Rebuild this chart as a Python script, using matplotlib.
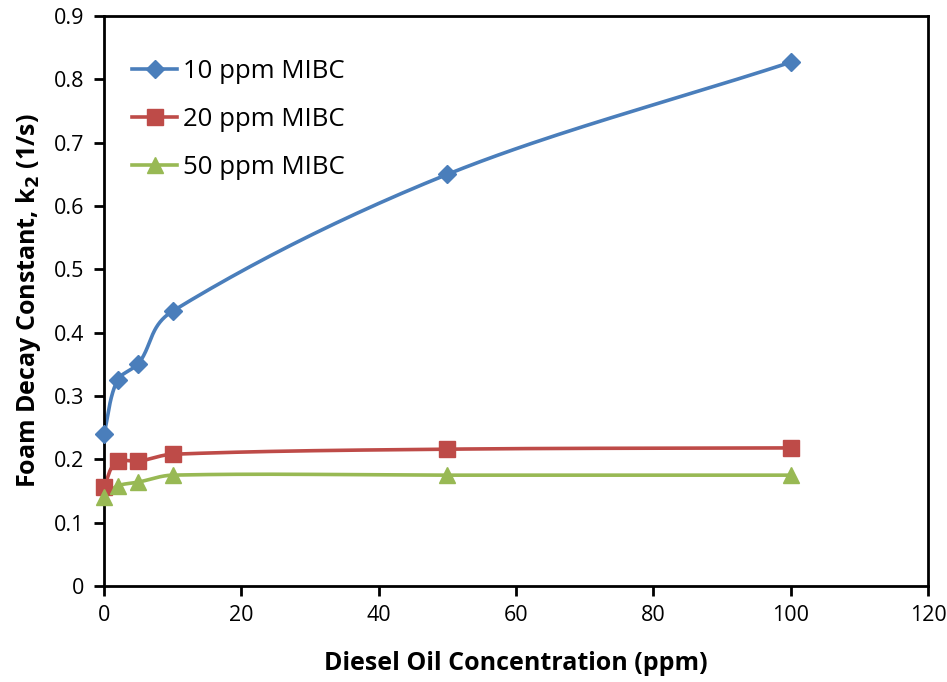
import numpy as np
import matplotlib
matplotlib.use("Agg")
import matplotlib.pyplot as plt
from matplotlib.lines import Line2D

plt.rcParams['font.family'] = ['Open Sans', 'DejaVu Sans']

diesel_ppm = [0, 2, 5, 10, 50, 100]
k2_mibc10 = [0.240, 0.326, 0.351, 0.434, 0.650, 0.827]
k2_mibc20 = [0.157, 0.197, 0.197, 0.208, 0.216, 0.218]
k2_mibc50 = [0.140, 0.158, 0.164, 0.175, 0.175, 0.175]
series_labels = ["10 ppm MIBC", "20 ppm MIBC", "50 ppm MIBC"]
x_ticks = [0, 20, 40, 60, 80, 100, 120]
y_ticks = [0, 0.1, 0.2, 0.3, 0.4, 0.5, 0.6, 0.7, 0.8, 0.9]

colors = ["#4a7ebb", "#be4b48", "#98b954"]
markers = ["D", "s", "^"]
msizes = [9, 11, 11]


def smooth_curve(xs, ys, sx, sy, n=40):
    """Bezier smoothing through the points; tangent lengths scaled per segment."""
    p = np.column_stack([np.asarray(xs, float) / sx, np.asarray(ys, float) / sy])
    m = len(p)
    dirs = []
    for i in range(m):
        a = p[i - 1] if i > 0 else p[i]
        b = p[i + 1] if i + 1 < m else p[i]
        d = b - a
        nrm = np.hypot(*d)
        dirs.append(d / nrm if nrm > 0 else d)
    out = []
    for i in range(m - 1):
        p1, p2 = p[i], p[i + 1]
        L = np.hypot(*(p2 - p1))
        c1 = p1 + dirs[i] * L / 3.0
        c2 = p2 - dirs[i + 1] * L / 3.0
        t = np.linspace(0, 1, n)[:, None]
        seg = ((1 - t) ** 3) * p1 + 3 * ((1 - t) ** 2) * t * c1 + 3 * (1 - t) * t ** 2 * c2 + t ** 3 * p2
        out.append(seg if i == 0 else seg[1:])
    c = np.vstack(out)
    return c[:, 0] * sx, c[:, 1] * sy


fig = plt.figure(figsize=(9.47, 6.82), dpi=100)
ax = fig.add_axes([0.1098, 0.1408, 0.8702, 0.8357])

handles = []
for ys, col, mk, ms, lab in zip([k2_mibc10, k2_mibc20, k2_mibc50], colors, markers, msizes, series_labels):
    cx, cy = smooth_curve(diesel_ppm, ys, 120.0, 0.9 * 0.69)
    ax.plot(cx, cy, color=col, lw=2.6, zorder=2, clip_on=False)
    ax.plot(diesel_ppm, ys, linestyle="none", marker=mk, markersize=ms, color=col,
            markeredgecolor=col, zorder=3, clip_on=False)
    handles.append(Line2D([0], [0], color=col, lw=2.6, marker=mk, markersize=ms,
                          markeredgecolor=col, label=lab))

ax.set_xlim(0, 120)
ax.set_ylim(0, 0.9)
ax.set_xticks(x_ticks)
ax.set_yticks(y_ticks)
ax.set_xticklabels([str(v) for v in x_ticks])
ax.set_yticklabels(["0" if v == 0 else f"{v:.1f}" for v in y_ticks])

for s in ["left", "bottom", "top", "right"]:
    ax.spines[s].set_linewidth(2.0)
    ax.spines[s].set_color("black")
ax.tick_params(axis="both", direction="out", length=7, width=2, labelsize=15.5, pad=7)

ax.set_xlabel("Diesel Oil Concentration (ppm)", fontsize=18, fontweight="bold", labelpad=18)
ax.set_ylabel("Foam Decay Constant, k$_\\mathbf{2}$ (1/s)", fontsize=18, fontweight="bold", labelpad=8)

ax.legend(handles=handles, loc="upper left", bbox_to_anchor=(0.006, 0.965), frameon=False,
          fontsize=18.5, handlelength=1.75, labelspacing=0.9, handletextpad=0.25)

fig.savefig("out.png", dpi=100)
